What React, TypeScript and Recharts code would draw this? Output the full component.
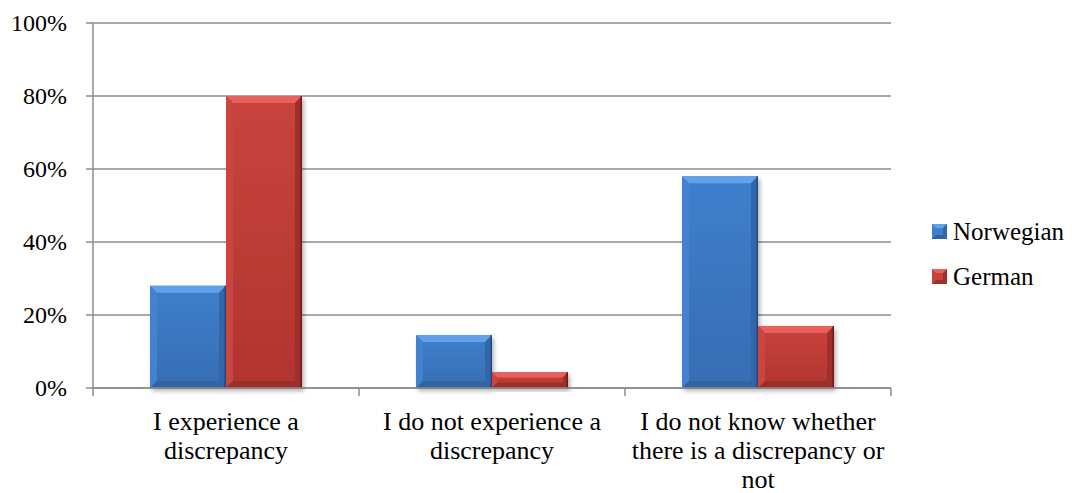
import React from 'react';
import {
  BarChart,
  Bar,
  XAxis,
  YAxis,
  CartesianGrid,
  Legend,
} from 'recharts';

// "\n" marks where a category label wraps under the axis
const categories = [
  'I experience a\ndiscrepancy',
  'I do not experience a\ndiscrepancy',
  'I do not know whether\nthere is a discrepancy or\nnot',
];
const seriesNames = ['Norwegian', 'German'];
const norwegian = [28, 14.5, 58];
const german = [80, 4.3, 17];
const yTicks = [0, 20, 40, 60, 80, 100];

const data = categories.map((name, i) => ({
  name,
  Norwegian: norwegian[i],
  German: german[i],
}));

const FONT = '"Liberation Serif", "Times New Roman", Times, serif';
const AXIS_GRAY = '#8c8c8c';

type Palette = { top: string; face1: string; face2: string; left: string; right: string; edge: string; bottom: string };

const palettes: Record<string, Palette> = {
  Norwegian: {
    top: '#62a0ea',
    face1: '#3f7fcc',
    face2: '#376db3',
    left: '#4382cf',
    right: '#3266a8',
    edge: '#234a80',
    bottom: '#3163a3',
  },
  German: {
    top: '#e8605b',
    face1: '#c8433e',
    face2: '#b2342f',
    left: '#c9453f',
    right: '#a02e2a',
    edge: '#6e1a17',
    bottom: '#9c2e2a',
  },
};

function BevelBar(props: any) {
  const { x, y, width: w, height: h, dataKey } = props;
  if (!h || h <= 0) return null;
  const p = palettes[dataKey];
  const b = Math.min(7, h / 3, w / 3);
  const gid = `face-${dataKey}`;
  return (
    <g filter="url(#barShadow)">
      <rect x={x} y={y} width={w} height={h} fill={`url(#${gid})`} />
      <polygon points={`${x},${y} ${x + w},${y} ${x + w - b},${y + b} ${x + b},${y + b}`} fill={p.top} />
      <polygon points={`${x},${y} ${x + b},${y + b} ${x + b},${y + h - b} ${x},${y + h}`} fill={p.left} />
      <polygon points={`${x + w},${y} ${x + w},${y + h} ${x + w - b},${y + h - b} ${x + w - b},${y + b}`} fill={p.right} />
      <polygon points={`${x},${y + h} ${x + w},${y + h} ${x + w - b},${y + h - b} ${x + b},${y + h - b}`} fill={p.bottom} />
      <line x1={x + w - 0.75} x2={x + w - 0.75} y1={y} y2={y + h} stroke={p.edge} strokeWidth={1.5} />
    </g>
  );
}

// category label plus tick marks on the band edges
function CategoryTick(props: any) {
  const { x, y, payload, index, visibleTicksCount } = props;
  const half = payload.offset;
  const y0 = y - 15 - 8;
  const lines = String(payload.value).split('\n');
  return (
    <g>
      <line x1={x - half} x2={x - half} y1={y0} y2={y0 + 8} stroke={AXIS_GRAY} strokeWidth={1.5} />
      {index === visibleTicksCount - 1 && (
        <line x1={x + half} x2={x + half} y1={y0} y2={y0 + 8} stroke={AXIS_GRAY} strokeWidth={1.5} />
      )}
      <text textAnchor="middle" style={{ fontFamily: FONT, fontSize: 26, fill: '#000' }}>
        {lines.map((line, i) => (
          <tspan key={i} x={x} y={y + 19 + i * 29}>
            {line}
          </tspan>
        ))}
      </text>
    </g>
  );
}

function PercentTick(props: any) {
  const { x, y, payload } = props;
  return (
    <text x={x} y={y + 8} textAnchor="end" style={{ fontFamily: FONT, fontSize: 24, fill: '#000' }}>
      {`${payload.value}%`}
    </text>
  );
}

function LegendBox(props: any) {
  const { payload } = props;
  const items = seriesNames.map((n) => payload.find((e: any) => e.value === n)).filter(Boolean);
  return (
    <div style={{ fontFamily: FONT, fontSize: 25, color: '#000', lineHeight: '28px' }}>
      {items.map((entry: any) => {
        const p = palettes[entry.value];
        return (
          <div key={entry.value} style={{ display: 'flex', alignItems: 'center', height: 45 }}>
            <svg width={15} height={15} style={{ marginRight: 6 }}>
              <rect x={0} y={0} width={15} height={15} fill={p.face1} />
              <polygon points="0,0 15,0 11,4 4,4" fill={p.top} />
              <polygon points="15,0 15,15 11,11 11,4" fill={p.right} />
              <polygon points="0,15 15,15 11,11 4,11" fill={p.bottom} />
            </svg>
            <span>{entry.value}</span>
          </div>
        );
      })}
    </div>
  );
}

export default function App() {
  return (
    <div style={{ position: 'absolute', left: 0, top: 0, background: '#fff' }}>
      <BarChart
        width={1072}
        height={493}
        data={data}
        margin={{ top: 23, right: 181, left: 0, bottom: 0 }}
        barCategoryGap={57}
        barGap={0}
      >
        <defs>
          <linearGradient id="face-Norwegian" x1="0" y1="0" x2="0" y2="1">
            <stop offset="0%" stopColor={palettes.Norwegian.face1} />
            <stop offset="100%" stopColor={palettes.Norwegian.face2} />
          </linearGradient>
          <linearGradient id="face-German" x1="0" y1="0" x2="0" y2="1">
            <stop offset="0%" stopColor={palettes.German.face1} />
            <stop offset="100%" stopColor={palettes.German.face2} />
          </linearGradient>
          <filter id="barShadow" x="-10%" y="-10%" width="130%" height="130%">
            <feDropShadow dx={2} dy={3} stdDeviation={2} floodColor="#000" floodOpacity={0.3} />
          </filter>
        </defs>
        <CartesianGrid vertical={false} stroke={AXIS_GRAY} strokeWidth={1.5} />
        <XAxis
          dataKey="name"
          height={105}
          interval={0}
          axisLine={{ stroke: AXIS_GRAY, strokeWidth: 1.5 }}
          tickLine={false}
          tickSize={8}
          tickMargin={15}
          tick={<CategoryTick />}
        />
        <YAxis
          width={93}
          domain={[0, 100]}
          ticks={yTicks}
          axisLine={{ stroke: AXIS_GRAY, strokeWidth: 1.5 }}
          tickLine={{ stroke: AXIS_GRAY, strokeWidth: 1.5 }}
          tickSize={7}
          tickMargin={19}
          tick={<PercentTick />}
        />
        <Legend
          layout="vertical"
          align="center"
          verticalAlign="middle"
          content={<LegendBox />}
          wrapperStyle={{ position: 'absolute', left: 932, top: 209, width: 140, height: 90 }}
        />
        <Bar dataKey="Norwegian" fill={palettes.Norwegian.face1} shape={<BevelBar />} isAnimationActive={false} />
        <Bar dataKey="German" fill={palettes.German.face1} shape={<BevelBar />} isAnimationActive={false} />
      </BarChart>
    </div>
  );
}
